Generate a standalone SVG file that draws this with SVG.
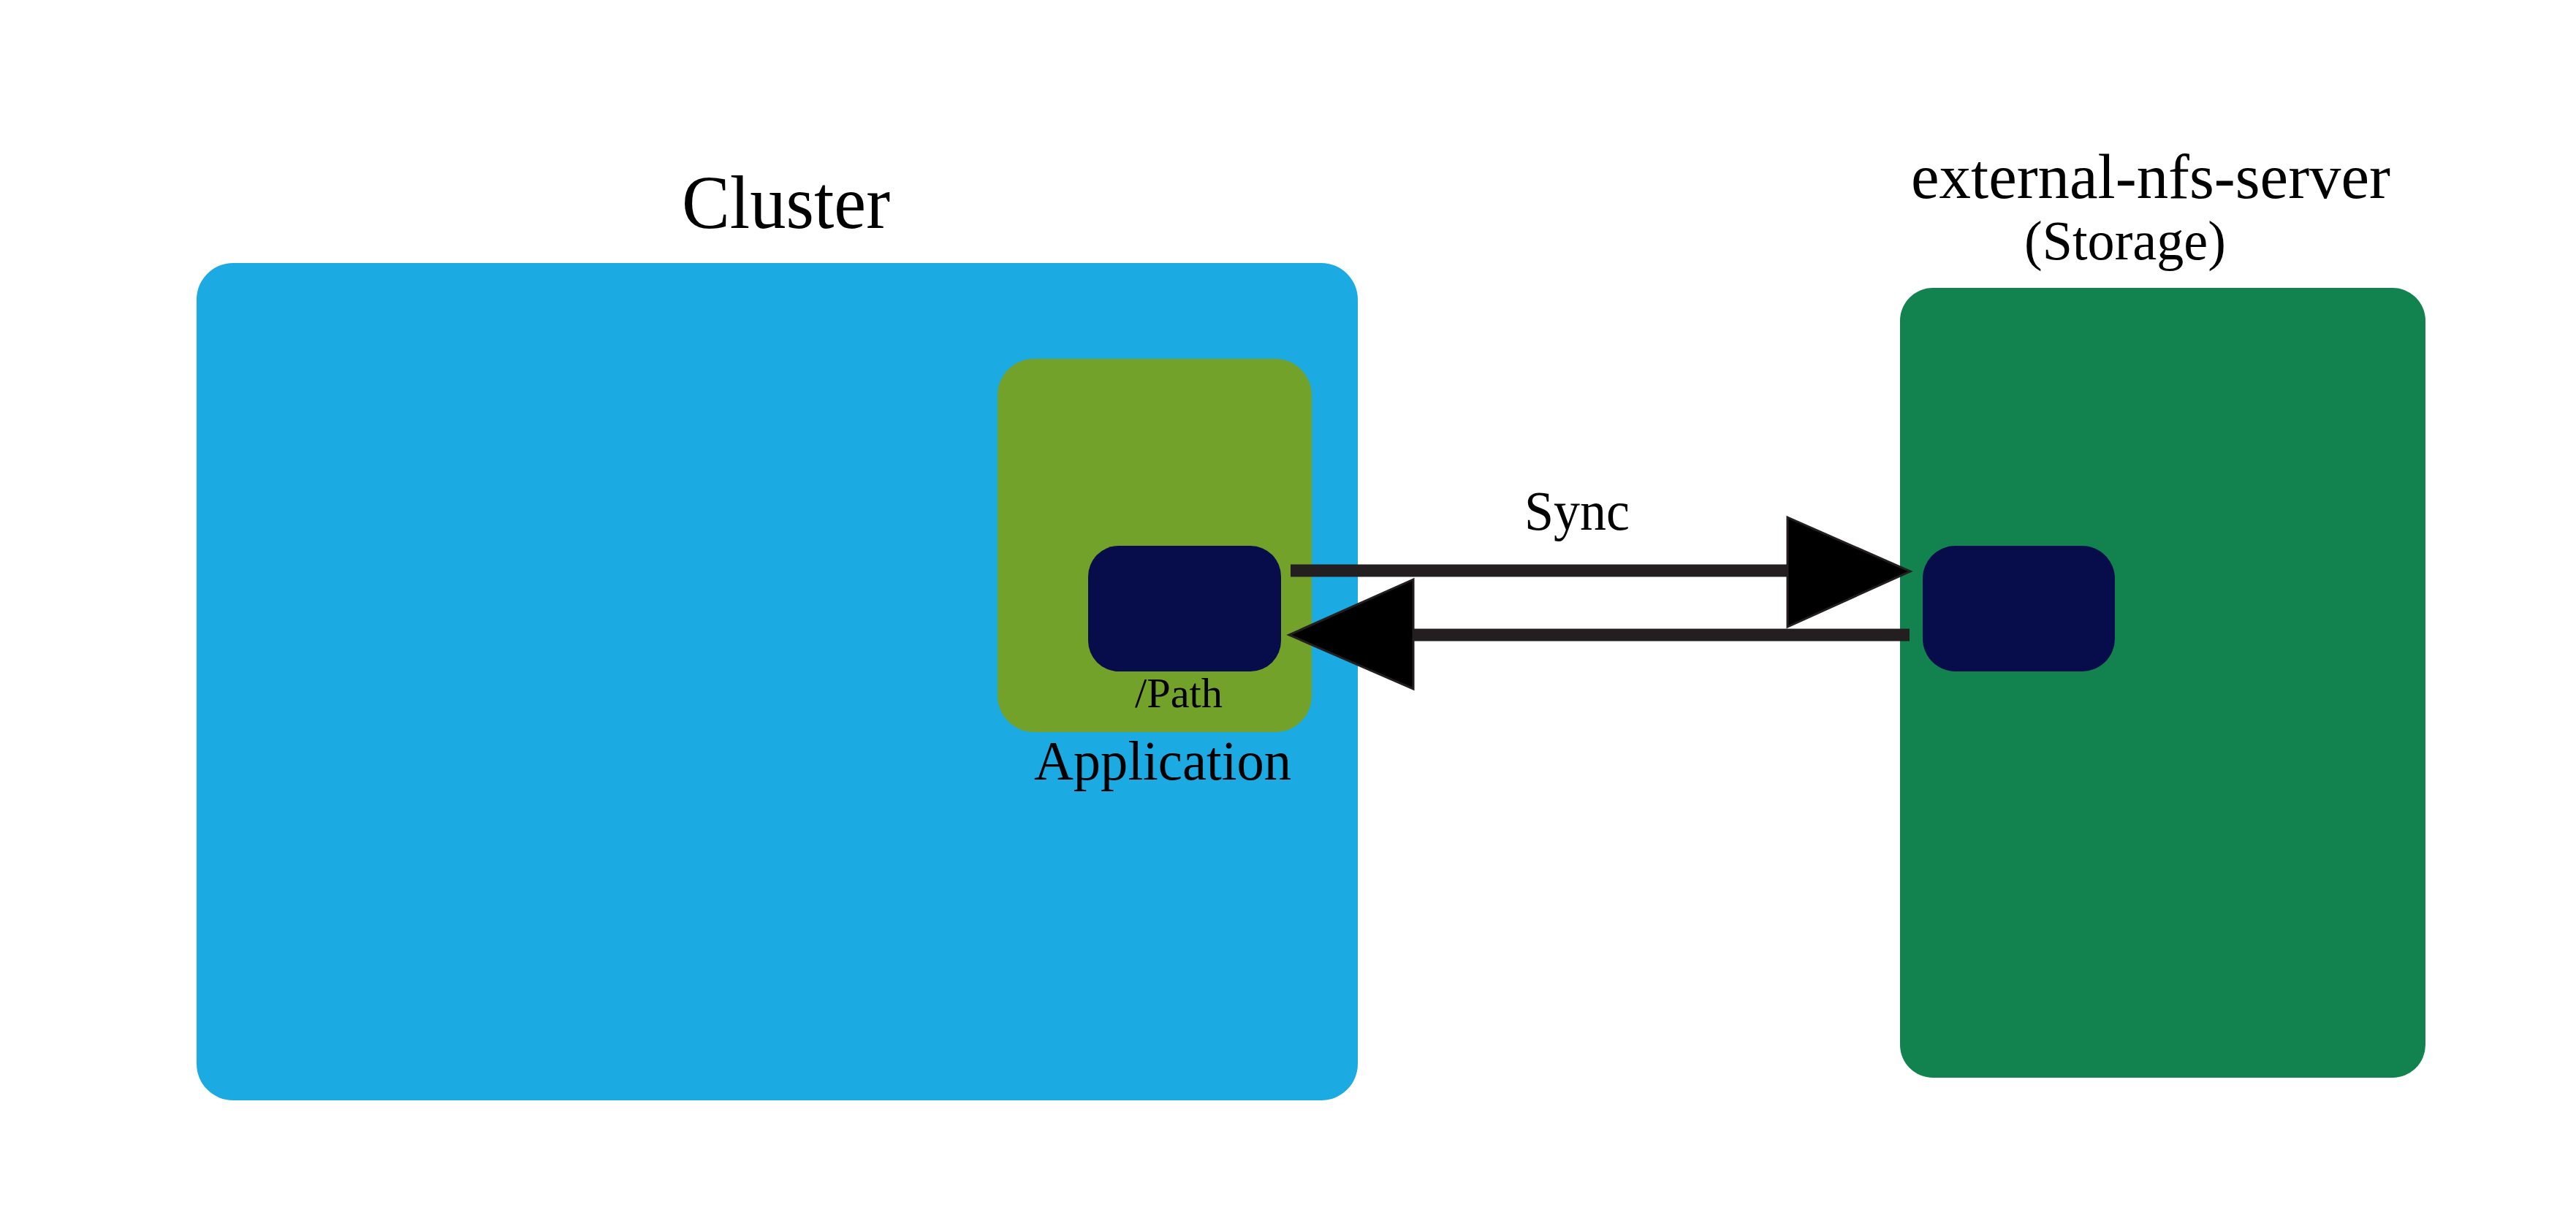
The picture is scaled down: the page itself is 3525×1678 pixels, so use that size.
<svg xmlns="http://www.w3.org/2000/svg" width="3525" height="1678" viewBox="0 0 3525 1678">
  <style>
    .lbl { font-family: "Liberation Serif", "Times New Roman", serif; fill: #000; }
    .conn { stroke: #231f20; stroke-width: 17; fill: none; }
    .head { fill: #000; stroke: #231f20; stroke-width: 3; stroke-linejoin: miter; }
  </style>
  <rect width="3525" height="1678" fill="#ffffff"/>

  <g id="cluster">
    <rect x="269" y="360" width="1589" height="1146" rx="50" ry="50" fill="#1caae2"/>
    <text class="lbl" x="933" y="312" font-size="104" textLength="285" lengthAdjust="spacingAndGlyphs">Cluster</text>
  </g>

  <g id="application">
    <rect x="1365" y="491" width="430" height="511" rx="50" ry="50" fill="#72a229"/>
    <text class="lbl" x="1415" y="1067" font-size="76" textLength="352" lengthAdjust="spacingAndGlyphs">Application</text>
  </g>

  <g id="path">
    <rect x="1489" y="747" width="264" height="172" rx="42" ry="42" fill="#060d4a"/>
    <text class="lbl" x="1553" y="968" font-size="58" textLength="120" lengthAdjust="spacingAndGlyphs">/Path</text>
  </g>

  <g id="storage">
    <rect x="2600" y="394" width="719" height="1081" rx="45" ry="45" fill="#12824e"/>
    <text class="lbl" x="2615" y="271" font-size="87" textLength="656" lengthAdjust="spacingAndGlyphs">external-nfs-server</text>
    <text class="lbl" x="2770" y="355" font-size="76" textLength="276" lengthAdjust="spacingAndGlyphs">(Storage)</text>
  </g>

  <g id="storage-volume">
    <rect x="2631" y="747" width="263" height="172" rx="45" ry="45" fill="#060d4a"/>
  </g>

  <g id="connectors">
    <line class="conn" x1="1766" y1="781" x2="2450" y2="781"/>
    <polygon class="head" points="2446,708 2614,782 2446,858"/>
    <line class="conn" x1="2613" y1="869" x2="1930" y2="869"/>
    <polygon class="head" points="1934,793 1764,869 1934,943"/>
    <text class="lbl" x="2086" y="725" font-size="76" textLength="144" lengthAdjust="spacingAndGlyphs">Sync</text>
  </g>
</svg>
